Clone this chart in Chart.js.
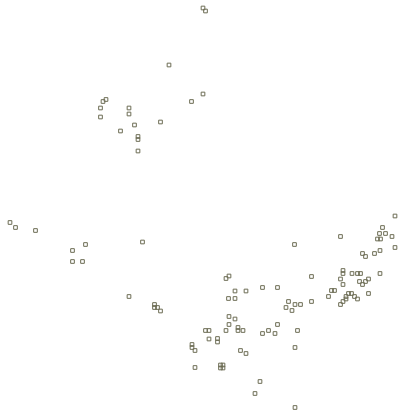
<!DOCTYPE html>
<html>
<head>
<meta charset="utf-8">
<script src="https://cdn.jsdelivr.net/npm/chart.js@4"></script>
<style>
  html, body { margin: 0; padding: 0; background: #ffffff; }
  #wrap { width: 417px; height: 419px; }
</style>
</head>
<body>
<div id="wrap"><canvas id="c" width="417" height="419"></canvas></div>
<script>
// Scatter values (arbitrary units, no axes shown)
const upperX = [203, 205.5, 169, 203, 191.5, 106, 103, 100.5, 129, 129, 100.5, 134.5, 160.5, 120.5, 138, 138, 138];
const upperY = [8, 11, 65, 94, 101.5, 99.5, 101.5, 108, 108, 114, 117, 125, 122, 131, 136.5, 139.5, 151];

const leftX = [10, 15.5, 35.5, 85.5, 72.5, 72.5, 82.5, 142.5, 129, 154.5, 154.5, 157.5, 160.5];
const leftY = [222.5, 227.5, 230.5, 244.5, 250.5, 261.5, 261.5, 242, 296.5, 304.5, 307.5, 307.5, 311];

const lowerX = [311.5, 226, 229, 262.5, 277.5, 235, 246, 228.5, 235, 288.5, 295, 300.5, 311.5, 286, 292,
  229, 235, 277.5, 229, 238, 238, 243, 226, 205.5, 209, 262.5, 268.5, 275, 297.5, 209, 217.5, 217.5,
  192, 192, 195, 295, 240.5, 246, 195, 220.5, 223, 220.5, 223, 260, 255, 295];
const lowerY = [276.5, 278.5, 276, 287.5, 287.5, 291, 291, 298.5, 298.5, 301.5, 304.5, 304.5, 301.5, 307.5, 310.5,
  316.5, 319, 324.5, 324.5, 327.5, 330.5, 330.5, 330.5, 330.5, 330.5, 333.5, 330.5, 333.5, 330.5, 339, 338.5, 342,
  344.5, 347.5, 350.5, 347.5, 350.5, 353.5, 367.5, 365, 365, 368, 368, 381.5, 393.5, 407.5];

const rightX = [395, 382.5, 379.5, 385.5, 392, 340.5, 294.5, 377.5, 380.5, 395, 362.5, 365.5, 374.5, 380,
  343, 343, 352, 357.5, 360.5, 380, 340.5, 359.5, 365.5, 368.5, 362.5, 343, 331.5, 334.5, 328.5,
  348.5, 351.5, 354.5, 357.5, 346, 346, 368.5, 343, 340.5];
const rightY = [216, 227.5, 233.5, 233.5, 236.5, 236.5, 244.5, 239, 239, 247.5, 253.5, 256.5, 253.5, 250.5,
  270.5, 273.5, 273.5, 273.5, 273.5, 273.5, 279, 281.5, 281.5, 279, 284.5, 284.5, 290.5, 290.5, 296.5,
  293.5, 293.5, 296.5, 299, 296.5, 299, 293.5, 301.5, 304.5];

const allX = [...upperX, ...leftX, ...lowerX, ...rightX];
const allY = [...upperY, ...leftY, ...lowerY, ...rightY];
const points = allX.map((x, i) => ({ x: x, y: allY[i] }));

new Chart(document.getElementById('c'), {
  type: 'scatter',
  data: {
    datasets: [{
      data: points,
      pointStyle: 'rect',
      pointRadius: 2.6,
      pointHoverRadius: 2.6,
      borderWidth: 1,
      borderColor: 'rgb(108,108,84)',
      backgroundColor: 'rgba(0,0,0,0)',
      clip: false
    }]
  },
  options: {
    responsive: false,
    animation: false,
    events: [],
    layout: { padding: 0, autoPadding: false },
    plugins: { legend: { display: false }, tooltip: { enabled: false } },
    scales: {
      x: { type: 'linear', min: 0, max: 417, display: false },
      y: { type: 'linear', min: 0, max: 419, reverse: true, display: false }
    }
  }
});
</script>
</body>
</html>
